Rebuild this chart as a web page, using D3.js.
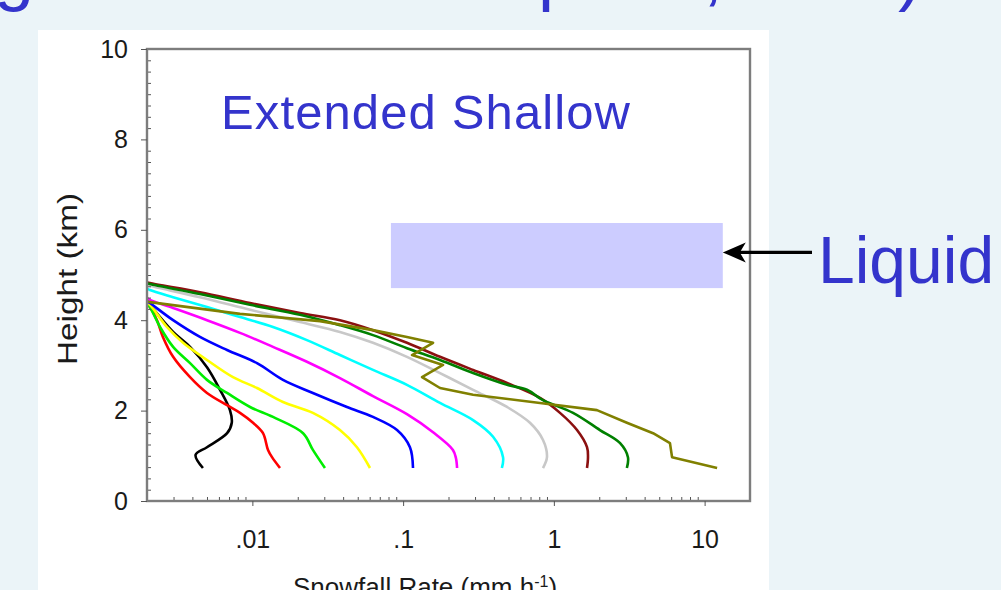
<!DOCTYPE html>
<html>
<head>
<meta charset="utf-8">
<script src="https://cdn.jsdelivr.net/npm/d3@7"></script>
<style>
  html, body { margin: 0; padding: 0; background: #ebf4f8; }
  svg { display: block; }
</style>
</head>
<body>
<div id="chart"></div>
<script>
// profiles: [snowfall rate (mm/h), height (km)]
var black = [[0.002, 4.42], [0.00209, 4.34], [0.00298, 3.74], [0.00386, 3.41], [0.0050, 2.96], [0.0061, 2.46], [0.0071, 2.01], [0.0073, 1.73], [0.0068, 1.50], [0.0050, 1.19], [0.0042, 1.02], [0.0047, 0.73]];
var red = [[0.002, 4.36], [0.00209, 4.29], [0.00233, 4.00], [0.00255, 3.63], [0.00298, 3.19], [0.00386, 2.74], [0.0050, 2.39], [0.00679, 2.12], [0.00828, 1.95], [0.0101, 1.73], [0.01176, 1.50], [0.0127, 1.13], [0.0135, 0.97], [0.01525, 0.73]];
var lime = [[0.002, 4.36], [0.00209, 4.29], [0.00244, 3.85], [0.00298, 3.41], [0.00386, 3.05], [0.0050, 2.68], [0.00679, 2.39], [0.00965, 2.08], [0.0137, 1.86], [0.0217, 1.50], [0.0252, 1.13], [0.0303, 0.73]];
var yellow = [[0.002, 4.38], [0.00209, 4.34], [0.00271, 3.85], [0.00347, 3.50], [0.0050, 3.12], [0.00744, 2.74], [0.01073, 2.50], [0.01596, 2.19], [0.0252, 1.95], [0.0381, 1.57], [0.0494, 1.19], [0.0603, 0.73]];
var blue = [[0.002, 4.42], [0.00209, 4.38], [0.00298, 4.00], [0.00449, 3.63], [0.00679, 3.34], [0.01073, 3.05], [0.01596, 2.68], [0.0252, 2.39], [0.0424, 2.08], [0.0631, 1.86], [0.0911, 1.57], [0.111, 1.19], [0.1163, 0.73]];
var magenta = [[0.002, 4.50], [0.00209, 4.45], [0.00298, 4.27], [0.0050, 4.00], [0.00828, 3.72], [0.0137, 3.41], [0.0230, 3.08], [0.0381, 2.72], [0.0631, 2.32], [0.106, 1.92], [0.158, 1.52], [0.214, 1.13], [0.224, 0.95], [0.228, 0.73]];
var cyan = [[0.002, 4.70], [0.00209, 4.67], [0.00298, 4.51], [0.0050, 4.29], [0.00828, 4.07], [0.0137, 3.85], [0.0230, 3.56], [0.0381, 3.23], [0.0631, 2.90], [0.106, 2.57], [0.1756, 2.17], [0.291, 1.79], [0.395, 1.42], [0.460, 0.97], [0.452, 0.73]];
var gray = [[0.002, 4.78], [0.00209, 4.76], [0.00449, 4.51], [0.00965, 4.23], [0.0207, 3.96], [0.0381, 3.74], [0.0631, 3.50], [0.106, 3.19], [0.1756, 2.83], [0.291, 2.46], [0.489, 2.08], [0.694, 1.73], [0.847, 1.35], [0.900, 0.97], [0.847, 0.73]];
var darkred = [[0.002, 4.84], [0.00209, 4.82], [0.00449, 4.62], [0.00965, 4.38], [0.0207, 4.16], [0.0381, 4.00], [0.0631, 3.78], [0.106, 3.50], [0.1756, 3.19], [0.291, 2.90], [0.489, 2.61], [0.809, 2.28], [1.098, 1.95], [1.424, 1.57], [1.659, 1.19], [1.684, 0.97], [1.659, 0.73]];
var green = [[0.002, 4.82], [0.00209, 4.80], [0.00449, 4.58], [0.00965, 4.34], [0.0207, 4.12], [0.0381, 3.89], [0.0631, 3.67], [0.106, 3.38], [0.1756, 3.12], [0.291, 2.83], [0.489, 2.57], [0.663, 2.46], [0.847, 2.23], [1.340, 1.95], [2.02, 1.57], [2.75, 1.28], [3.10, 0.97], [3.05, 0.73]];
var olive = [[0.002, 4.42], [0.00209, 4.40], [0.00828, 4.14], [0.0281, 3.98], [0.0631, 3.78], [0.106, 3.63], [0.158, 3.50], [0.1146, 3.23], [0.184, 3.01], [0.1335, 2.74], [0.1756, 2.50], [0.291, 2.35], [0.809, 2.17], [1.93, 2.01], [3.05, 1.73], [4.55, 1.50], [5.89, 1.28], [6.08, 0.97], [12.1, 0.73]];

var profiles = [black, red, lime, yellow, blue, magenta, cyan, gray, darkred, green, olive];
var profileColors = ['#000000', '#ff0000', '#00ee00', '#ffff00', '#0000ff', '#ff00ff', '#00ffff', '#c8c8c8', '#8b1010', '#008000', '#808000'];

// liquid layer box: rate range, height range
var liquidRate = [0.083, 13.2];
var liquidHeight = [4.71, 6.15];

var xTicks = [0.01, 0.1, 1, 10];
var xTickLabels = ['.01', '.1', '1', '10'];
var yTicks = [0, 2, 4, 6, 8, 10];

(function () {
  var width = 1001,
    height = 590,
    plotLeft = 147,
    plotRight = 750,
    plotTop = 49,
    plotBottom = 501,
    blueText = '#3434cc',
    font = 'Liberation Sans, Arial, sans-serif';

  var svg = d3.select('#chart').append('svg')
    .attr('width', width)
    .attr('height', height);

  svg.append('rect')
    .attr('width', width).attr('height', height)
    .attr('fill', '#ebf4f8');

  // cut-off slide title (only descenders visible)
  var titleBits = [['g', -6], ['p', 538], [',', 703], [')', 898]];
  svg.selectAll('.title-bit')
    .data(titleBits)
    .enter()
    .append('text')
    .attr('class', 'title-bit')
    .attr('x', function (d) { return d[1]; })
    .attr('y', -3)
    .attr('font-family', font)
    .attr('font-size', 72)
    .attr('fill', blueText)
    .text(function (d) { return d[0]; });

  // white panel
  svg.append('rect')
    .attr('x', 38).attr('y', 30)
    .attr('width', 731).attr('height', 570)
    .attr('fill', '#ffffff');

  var x = d3.scaleLog().domain([0.002, 20]).range([plotLeft, plotRight]);
  var y = d3.scaleLinear().domain([0, 10]).range([plotBottom, plotTop]);

  svg.append('defs').append('clipPath')
    .attr('id', 'plot-clip')
    .append('rect')
    .attr('x', plotLeft).attr('y', plotTop)
    .attr('width', plotRight - plotLeft).attr('height', plotBottom - plotTop);

  svg.append('rect')
    .attr('x', x(liquidRate[0]))
    .attr('y', y(liquidHeight[1]))
    .attr('width', x(liquidRate[1]) - x(liquidRate[0]))
    .attr('height', y(liquidHeight[0]) - y(liquidHeight[1]))
    .attr('fill', '#ccccff');

  svg.append('text')
    .attr('x', 221)
    .attr('y', 129)
    .attr('font-family', font)
    .attr('font-size', 49)
    .attr('fill', blueText)
    .attr('textLength', 409)
    .attr('lengthAdjust', 'spacing')
    .text('Extended Shallow');

  // smooth profiles, but the olive one is a stepped trace
  var smoothLine = d3.line()
    .curve(d3.curveCatmullRom.alpha(0.5))
    .x(function (d) { return x(d[0]); })
    .y(function (d) { return y(d[1]); });
  var rawLine = d3.line()
    .x(function (d) { return x(d[0]); })
    .y(function (d) { return y(d[1]); });

  svg.append('g')
    .attr('clip-path', 'url(#plot-clip)')
    .selectAll('path')
    .data(profiles)
    .enter()
    .append('path')
    .attr('d', function (d) { return d === olive ? rawLine(d) : smoothLine(d); })
    .attr('fill', 'none')
    .attr('stroke', function (d, i) { return profileColors[i]; })
    .attr('stroke-width', 2.6)
    .attr('stroke-linejoin', 'round');

  // minor ticks (inward)
  var xMinor = [];
  [0.001, 0.01, 0.1, 1, 10].forEach(function (dec) {
    for (var k = 2; k <= 9; k++) {
      var v = dec * k;
      if (v > 0.002 && v < 20) xMinor.push(v);
    }
  });
  var yMinor = d3.range(0, 10.01, 0.25).filter(function (v) { return v % 2 !== 0; });

  svg.append('g')
    .attr('transform', 'translate(0,' + plotBottom + ')')
    .call(d3.axisBottom(x).tickValues(xMinor).tickSize(-4).tickFormat(''))
    .call(function (g) { g.select('.domain').remove(); })
    .selectAll('line').attr('stroke', '#555');

  svg.append('g')
    .attr('transform', 'translate(' + plotLeft + ',0)')
    .call(d3.axisLeft(y).tickValues(yMinor).tickSize(-4).tickFormat(''))
    .call(function (g) { g.select('.domain').remove(); })
    .selectAll('line').attr('stroke', '#555');

  // frame
  svg.append('rect')
    .attr('x', plotLeft).attr('y', plotTop)
    .attr('width', plotRight - plotLeft).attr('height', plotBottom - plotTop)
    .attr('fill', 'none')
    .attr('stroke', '#7d7d7d')
    .attr('stroke-width', 2.4);

  // major axes
  var xAxis = svg.append('g')
    .attr('transform', 'translate(0,' + plotBottom + ')')
    .call(d3.axisBottom(x)
      .tickValues(xTicks)
      .tickSize(5)
      .tickPadding(24)
      .tickFormat(function (d, i) { return xTickLabels[i]; }));
  xAxis.select('.domain').remove();
  xAxis.selectAll('line').attr('stroke', '#555');
  xAxis.selectAll('text')
    .attr('font-family', font)
    .attr('font-size', 25)
    .attr('fill', '#1a1a1a');

  var yAxis = svg.append('g')
    .attr('transform', 'translate(' + plotLeft + ',0)')
    .call(d3.axisLeft(y)
      .tickValues(yTicks)
      .tickSize(6)
      .tickPadding(13)
      .tickFormat(d3.format('d')));
  yAxis.select('.domain').remove();
  yAxis.selectAll('line').attr('stroke', '#555');
  yAxis.selectAll('text')
    .attr('font-family', font)
    .attr('font-size', 25)
    .attr('fill', '#1a1a1a');

  // axis titles
  svg.append('text')
    .attr('transform', 'translate(77,279) rotate(-90)')
    .attr('text-anchor', 'middle')
    .attr('font-family', font)
    .attr('font-size', 27)
    .attr('fill', '#1a1a1a')
    .attr('textLength', 172)
    .attr('lengthAdjust', 'spacingAndGlyphs')
    .text('Height (km)');

  var xTitle = svg.append('text')
    .attr('x', 425)
    .attr('y', 596)
    .attr('text-anchor', 'middle')
    .attr('font-family', font)
    .attr('font-size', 26)
    .attr('fill', '#1a1a1a');
  xTitle.append('tspan').text('Snowfall Rate (mm h');
  xTitle.append('tspan').attr('dy', -9).attr('font-size', 16).text('-1');
  xTitle.append('tspan').attr('dy', 9).text(')');

  // annotation arrow and label
  var arrowY = y(5.5);
  var tipX = x(liquidRate[1]);
  svg.append('line')
    .attr('x1', 812).attr('y1', arrowY)
    .attr('x2', tipX + 14).attr('y2', arrowY)
    .attr('stroke', '#000')
    .attr('stroke-width', 3.2);
  svg.append('path')
    .attr('d', 'M' + tipX + ',' + arrowY +
      'L' + (tipX + 23) + ',' + (arrowY - 10) +
      'L' + (tipX + 17) + ',' + arrowY +
      'L' + (tipX + 23) + ',' + (arrowY + 10) + 'Z')
    .attr('fill', '#000');

  svg.append('text')
    .attr('x', 818)
    .attr('y', 283)
    .attr('font-family', font)
    .attr('font-size', 66)
    .attr('fill', blueText)
    .text('Liquid');
})();
</script>
</body>
</html>
